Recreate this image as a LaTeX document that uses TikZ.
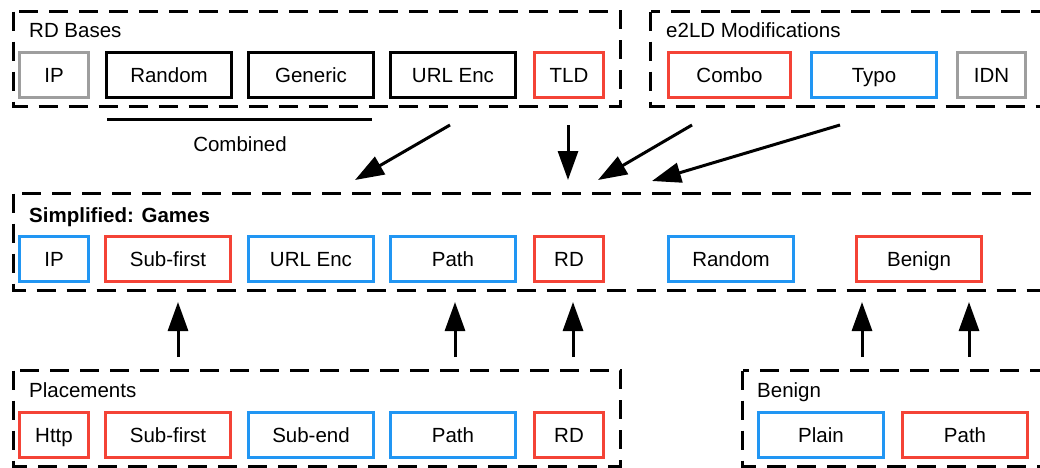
\documentclass[tikz,border=0pt]{standalone}
\usepackage{fontspec}
\setmainfont{Liberation Sans}
\usetikzlibrary{arrows.meta}
\definecolor{cred}{RGB}{244,67,54}
\definecolor{cblue}{RGB}{33,150,243}
\definecolor{cgray}{RGB}{158,158,158}
\tikzset{
  bx/.style={draw, line width=2.8pt, rectangle, inner sep=0pt, minimum height=45pt,
    text height=14.7pt, text depth=0pt, font=\fontsize{20.5}{24}\selectfont},
  grp/.style={draw, line width=3pt, dash pattern=on 19pt off 11pt},
  ttl/.style={anchor=base west, inner sep=0pt, font=\fontsize{20.5}{24}\selectfont},
  arr/.style={line width=3pt, -{Triangle[length=29pt,width=20pt]}},
  combline/.style={line width=3pt},
}
\begin{document}
\begin{tikzpicture}[x=1pt,y=-1pt]
\useasboundingbox (0,0) rectangle (1040,467);
\clip (0,0) rectangle (1040,467);
% group frames
\draw[grp] (13.5,11.5) rectangle (620.5,106.5);
\draw[grp] (650.5,11.5) rectangle (1070,106.5);
\draw[grp] (13.5,193.5) rectangle (1070,290.5);
\draw[grp] (13.5,370.5) rectangle (620.5,466);
\draw[grp] (742.5,370.5) rectangle (1070,466);
% titles
\node[ttl] (tRD) at (29,37) {RD Bases};
\node[ttl] (tE2) at (666,37) {e2LD Modifications};
\node[ttl, font=\fontsize{20.5}{24}\selectfont\bfseries] (tSG) at (29,222) {Simplified: Games};
\node[ttl] (tPL) at (29,397) {Placements};
\node[ttl] (tBN) at (757,397) {Benign};
% row 1
\node[bx, cgray, text=black, minimum width=69pt] (r1ip) at (54,75) {IP};
\node[bx, minimum width=125pt] (r1rand) at (169,75) {Random};
\node[bx, minimum width=125pt] (r1gen) at (311,75) {Generic};
\node[bx, minimum width=125pt] (r1url) at (453,75) {URL Enc};
\node[bx, cred, text=black, minimum width=69pt] (r1tld) at (569,75) {TLD};
\node[bx, cred, text=black, minimum width=122pt] (r1combo) at (729.5,75) {Combo};
\node[bx, cblue, text=black, minimum width=125pt] (r1typo) at (874,75) {Typo};
\node[bx, cgray, text=black, minimum width=68pt] (r1idn) at (991.5,75) {IDN};
% combined
\coordinate (cbL) at (107,119.5);
\coordinate (cbR) at (372,119.5);
\draw[combline] (cbL) -- (cbR);
\node[ttl, anchor=base] (tCB) at (240,151) {Combined};
% row 2
\node[bx, cblue, text=black, minimum width=69pt] (r2ip) at (54,259) {IP};
\node[bx, cred, text=black, minimum width=125pt] (r2sub) at (168,259) {Sub-first};
\node[bx, cblue, text=black, minimum width=125pt] (r2url) at (311,259) {URL Enc};
\node[bx, cblue, text=black, minimum width=125pt] (r2path) at (453,259) {Path};
\node[bx, cred, text=black, minimum width=69pt] (r2rd) at (569,259) {RD};
\node[bx, cblue, text=black, minimum width=125pt] (r2rand) at (731,259) {Random};
\node[bx, cred, text=black, minimum width=125pt] (r2ben) at (919,259) {Benign};
% row 3
\node[bx, cred, text=black, minimum width=69pt] (r3http) at (54,435) {Http};
\node[bx, cred, text=black, minimum width=125pt] (r3sub) at (168,435) {Sub-first};
\node[bx, cblue, text=black, minimum width=125pt] (r3end) at (311,435) {Sub-end};
\node[bx, cblue, text=black, minimum width=125pt] (r3path) at (453,435) {Path};
\node[bx, cred, text=black, minimum width=69pt] (r3rd) at (569,435) {RD};
\node[bx, cblue, text=black, minimum width=125pt] (r3plain) at (821,435) {Plain};
\node[bx, cred, text=black, minimum width=125pt] (r3bpath) at (965,435) {Path};
% arrows down
\coordinate (d1s) at (450,125); \coordinate (d1e) at (355,180);
\coordinate (d2s) at (568,125); \coordinate (d2e) at (568,180);
\coordinate (d3s) at (692,125); \coordinate (d3e) at (598,180);
\coordinate (d4s) at (840,125); \coordinate (d4e) at (652,181);
\draw[arr] (d1s) -- (d1e);
\draw[arr] (d2s) -- (d2e);
\draw[arr] (d3s) -- (d3e);
\draw[arr] (d4s) -- (d4e);
% arrows up
\foreach \i/\x in {1/178,2/455,3/573,4/862,5/969}{
  \coordinate (u\i s) at (\x,357); \coordinate (u\i e) at (\x,302);
  \draw[arr] (u\i s) -- (u\i e);
}
\end{tikzpicture}
\end{document}
